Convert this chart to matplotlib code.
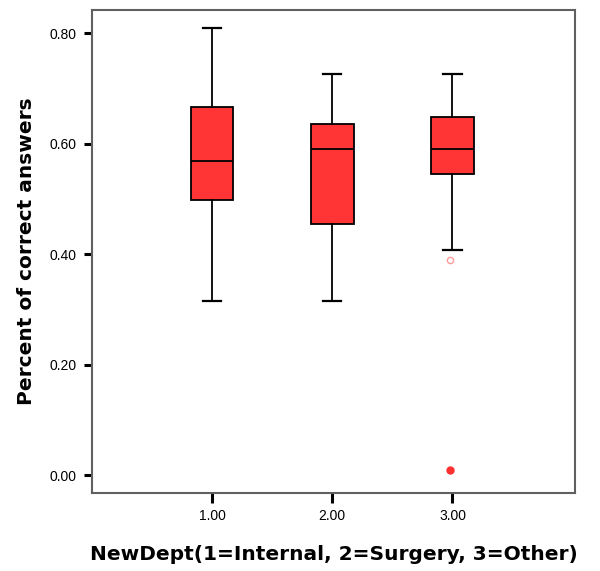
import matplotlib
matplotlib.use("Agg")
import matplotlib.pyplot as plt

plt.rcParams['font.family'] = ['Liberation Sans', 'DejaVu Sans']

groups = [1.0, 2.0, 3.0]
whislo = [0.316, 0.316, 0.408]
q1 = [0.499, 0.454, 0.545]
med = [0.569, 0.590, 0.590]
q3 = [0.666, 0.635, 0.648]
whishi = [0.809, 0.727, 0.727]
outliers = [[], [], [0.390]]
extremes = [[], [], [0.009]]
xticklabels = ["1.00", "2.00", "3.00"]
yticks = [0.0, 0.2, 0.4, 0.6, 0.8]
yticklabels = ["0.00", "0.20", "0.40", "0.60", "0.80"]

fig = plt.figure(figsize=(6.0, 5.71), dpi=100)
ax = fig.add_axes([0.1533, 0.1366, 0.8050, 0.8459])

stats = []
for i in range(3):
    stats.append(dict(whislo=whislo[i], q1=q1[i], med=med[i], q3=q3[i],
                      whishi=whishi[i], fliers=[]))

ax.bxp(stats, positions=groups, widths=0.355, patch_artist=True,
       showfliers=False, capwidths=0.153,
       boxprops=dict(facecolor='#ff3434', edgecolor='black', linewidth=1.3),
       medianprops=dict(color='black', linewidth=1.3),
       whiskerprops=dict(color='black', linewidth=1.3),
       capprops=dict(color='black', linewidth=1.6))

for g, o, e in zip(groups, outliers, extremes):
    if o:
        ax.plot([g - 0.02] * len(o), o, linestyle='none', marker='o',
                markersize=4.5, markerfacecolor='none',
                markeredgecolor='#ff9a9a', markeredgewidth=1.0)
    if e:
        ax.plot([g - 0.02] * len(e), e, linestyle='none', marker='o',
                markersize=5, markerfacecolor='#ff3030',
                markeredgecolor='#ff3030')

ax.set_xlim(0, 4.02)
ax.set_ylim(-0.0326, 0.8424)
ax.set_xticks(groups)
ax.set_xticklabels(xticklabels, fontsize=10)
ax.set_yticks(yticks)
ax.set_yticklabels(yticklabels, fontsize=10)
ax.tick_params(axis='y', direction='out', length=6, width=2.2,
               color='black', pad=5)
ax.tick_params(axis='x', direction='out', length=7.5, width=2.2,
               color='black', pad=4)

for s in ax.spines.values():
    s.set_color('#606060')
    s.set_linewidth(1.5)

ax.set_xlabel("NewDept(1=Internal, 2=Surgery, 3=Other)", fontsize=14.5,
              fontweight='bold', labelpad=16,
              family=['DejaVu Sans'])
ax.set_ylabel("Percent of correct answers", fontsize=14.5,
              fontweight='bold', labelpad=10,
              family=['DejaVu Sans'])

fig.savefig("out.png", dpi=100, facecolor='white')
